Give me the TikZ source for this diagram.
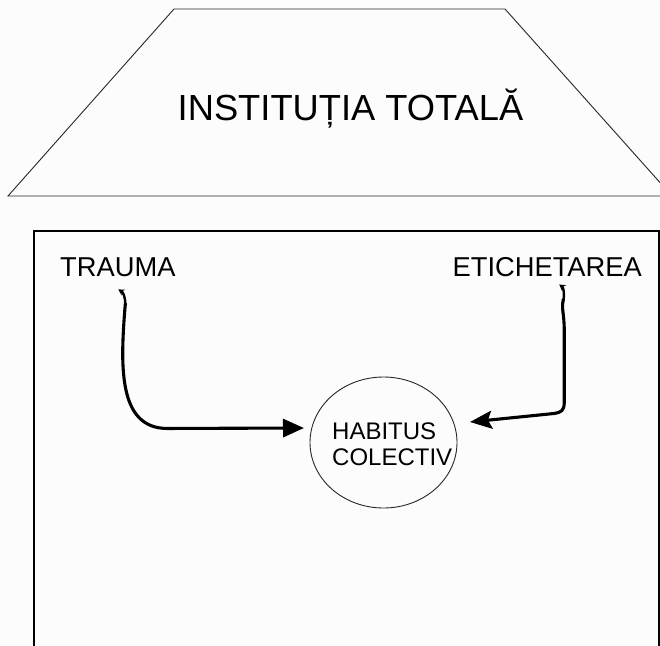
\documentclass[tikz,border=0pt]{standalone}
\usepackage{fontspec}
\setmainfont{Liberation Sans}
\usetikzlibrary{arrows.meta,calc,shapes.geometric}
\begin{document}
\begin{tikzpicture}[x=1pt,y=-1pt,
  thinline/.style={draw=black!85,line width=0.9pt},
  frame/.style={draw=black,line width=2pt},
  label/.style={inner sep=0pt,font=\fontsize{27.3}{30}\selectfont},
  habtxt/.style={inner sep=0pt,font=\fontsize{24}{26}\selectfont},
  conn/.style={line width=3.1pt,line cap=round,line join=round},
  hook/.style={line width=2.4pt,line cap=round,-{Stealth[length=6pt,width=7pt,line width=0pt]}}]
\useasboundingbox (0,0) rectangle (660,645);
\fill[white!99!black] (0,0) rectangle (660,645);
\begin{scope}
\clip (0,0) rectangle (660,645);
% trapezoid (roof)
\draw[thinline] (174,9) -- (505,9) -- (672,196) -- (8,196) -- cycle;
% walls
\draw[frame] (34,652) -- (34,231) -- (659,231) -- (659,652);
\end{scope}
\node[inner sep=0pt,anchor=base,font=\fontsize{36.3}{40}\selectfont] (title) at (350.5,120) {INSTITUȚIA TOTALĂ};
\node[label,anchor=base west] (trauma) at (60,276) {TRAUMA};
\node[label,anchor=base east] (etich) at (642,276) {ETICHETAREA};
\node[ellipse,thinline,minimum width=147pt,minimum height=131pt,inner sep=0pt] (hab) at (383.5,442.5) {};
\node[habtxt,anchor=base west] (habA) at (332,439) {HABITUS};
\node[habtxt,anchor=base west] (habB) at (332,465) {COLECTIV};
\coordinate (tA) at ([shift={(0.5,13)}]trauma.south);
\coordinate (tB) at ([shift={(-79.5,-14.5)}]hab.center);
\coordinate (eA) at ([shift={(12,8)}]etich.south);
\coordinate (eB) at ([shift={(86.5,-20.5)}]hab.center);
% hooks at the label ends
\draw[hook] ($(tA)+(7,16)$) .. controls ($(tA)+(7.3,9)$) and ($(tA)+(5,3)$) .. (tA);
\draw[hook] ($(eA)+(4,17)$) .. controls ($(eA)+(5.5,9)$) and ($(eA)+(4,3)$) .. (eA);
\draw[conn,-{Triangle[length=21pt,width=18pt]}]
  ($(tA)+(7,14)$)
  .. controls ($(tA)+(2,75)$) and ($(tA)+(-1,139)$) .. ($(tA)+(49,139)$) -- (tB);
\draw[conn,-{Stealth[length=22pt,width=18pt,inset=4pt]}]
  ($(eA)+(4,15)$)
  .. controls ($(eA)+(2,25)$) and ($(eA)+(5,29)$) .. ($(eA)+(5,46)$)
  -- ($(eA)+(5,118)$) .. controls ($(eA)+(5,126)$) and ($(eA)+(2,128)$) .. ($(eA)+(-5,129)$) -- (eB);
\end{tikzpicture}
\end{document}
